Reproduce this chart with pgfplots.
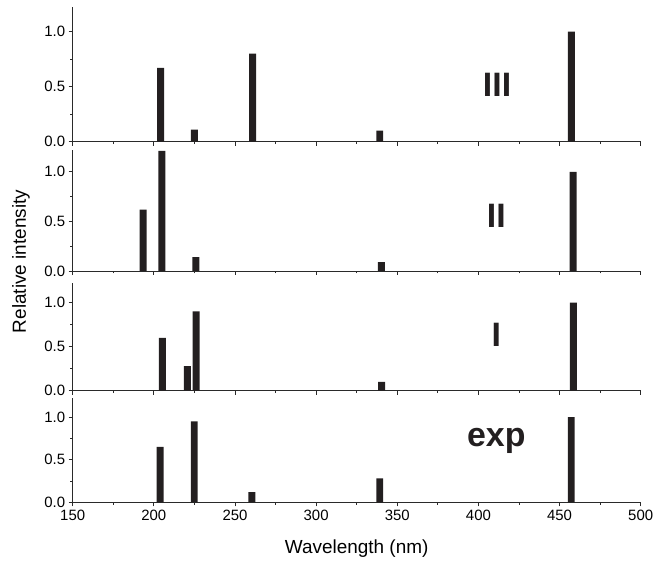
\documentclass[border=0pt]{standalone}
\usepackage{fontspec}
\setmainfont{Liberation Sans}
\usepackage{pgfplots}
\pgfplotsset{compat=1.18}
\definecolor{barc}{HTML}{231F20}
\definecolor{axc}{HTML}{2A2A2A}

\tikzset{lab/.style={font=\fontsize{34}{34}\bfseries\selectfont, color=barc}}

\pgfplotsset{
  panel/.style={
    scale only axis, width=568bp,
    xmin=150, xmax=500, ymin=0, ymax=1.22,
    axis x line*=bottom, axis y line*=left,
    tick align=outside,
    xtick={150,200,...,500}, minor x tick num=1,
    ytick={0,0.5,1}, minor y tick num=1,
    major tick length=4bp, minor tick length=2.5bp,
    ticklabel style={font=\fontsize{15}{15}\selectfont},
    /pgf/number format/assume math mode=true,
    y tick label style={/pgf/number format/.cd, fixed, fixed zerofill, precision=1, /tikz/.cd},
    x tick label style={/pgf/number format/.cd, 1000 sep={}, /tikz/.cd},
    axis line style={line width=0.8bp, color=axc},
    tick style={line width=0.8bp, color=axc},
    ybar, bar width=4.3,
    anchor=south west,
  },
}

\begin{document}
\begin{tikzpicture}
\path[use as bounding box] (0,0) rectangle (655bp,565bp);

% Panel III
\begin{axis}[panel, at={(72.7bp,423.3bp)}, height=134.4bp, xticklabels={}]
\addplot[fill=barc, draw=none] coordinates {(204.2,0.67) (225,0.11) (260.8,0.80) (339.2,0.10) (457.3,1.00)};
\node[lab] at (axis cs:411.5,0.52) {III};
\end{axis}

% Panel II
\begin{axis}[panel, at={(72.7bp,294bp)}, height=121bp, xticklabels={}]
\addplot[fill=barc, draw=none] coordinates {(193.4,0.62) (205,1.21) (225.9,0.14) (340.2,0.09) (458.3,1.00)};
\node[lab] at (axis cs:411,0.56) {II};
\end{axis}

% Panel I
\begin{axis}[panel, at={(72.7bp,174.3bp)}, height=107.4bp, xticklabels={}]
\addplot[fill=barc, draw=none] coordinates {(205.2,0.60) (220.7,0.28) (226.1,0.90) (340.4,0.10) (458.5,1.00)};
\node[lab] at (axis cs:411,0.64) {I};
\end{axis}

% Panel exp
\begin{axis}[panel, at={(72.7bp,62.7bp)}, height=104bp,
  xlabel={Wavelength (nm)},
  xlabel style={font=\fontsize{19}{19}\selectfont, at={(axis description cs:0.5,0)}, anchor=base, yshift=-51bp}]
\addplot[fill=barc, draw=none] coordinates {(203.9,0.65) (224.9,0.95) (260.4,0.12) (339.2,0.28) (457.2,1.00)};
\node[lab, anchor=base] at (axis cs:411,0.66) {exp};
\end{axis}

\node[rotate=90, font=\fontsize{19}{19}\selectfont] at (21bp,303.5bp) {Relative intensity};
\end{tikzpicture}
\end{document}
